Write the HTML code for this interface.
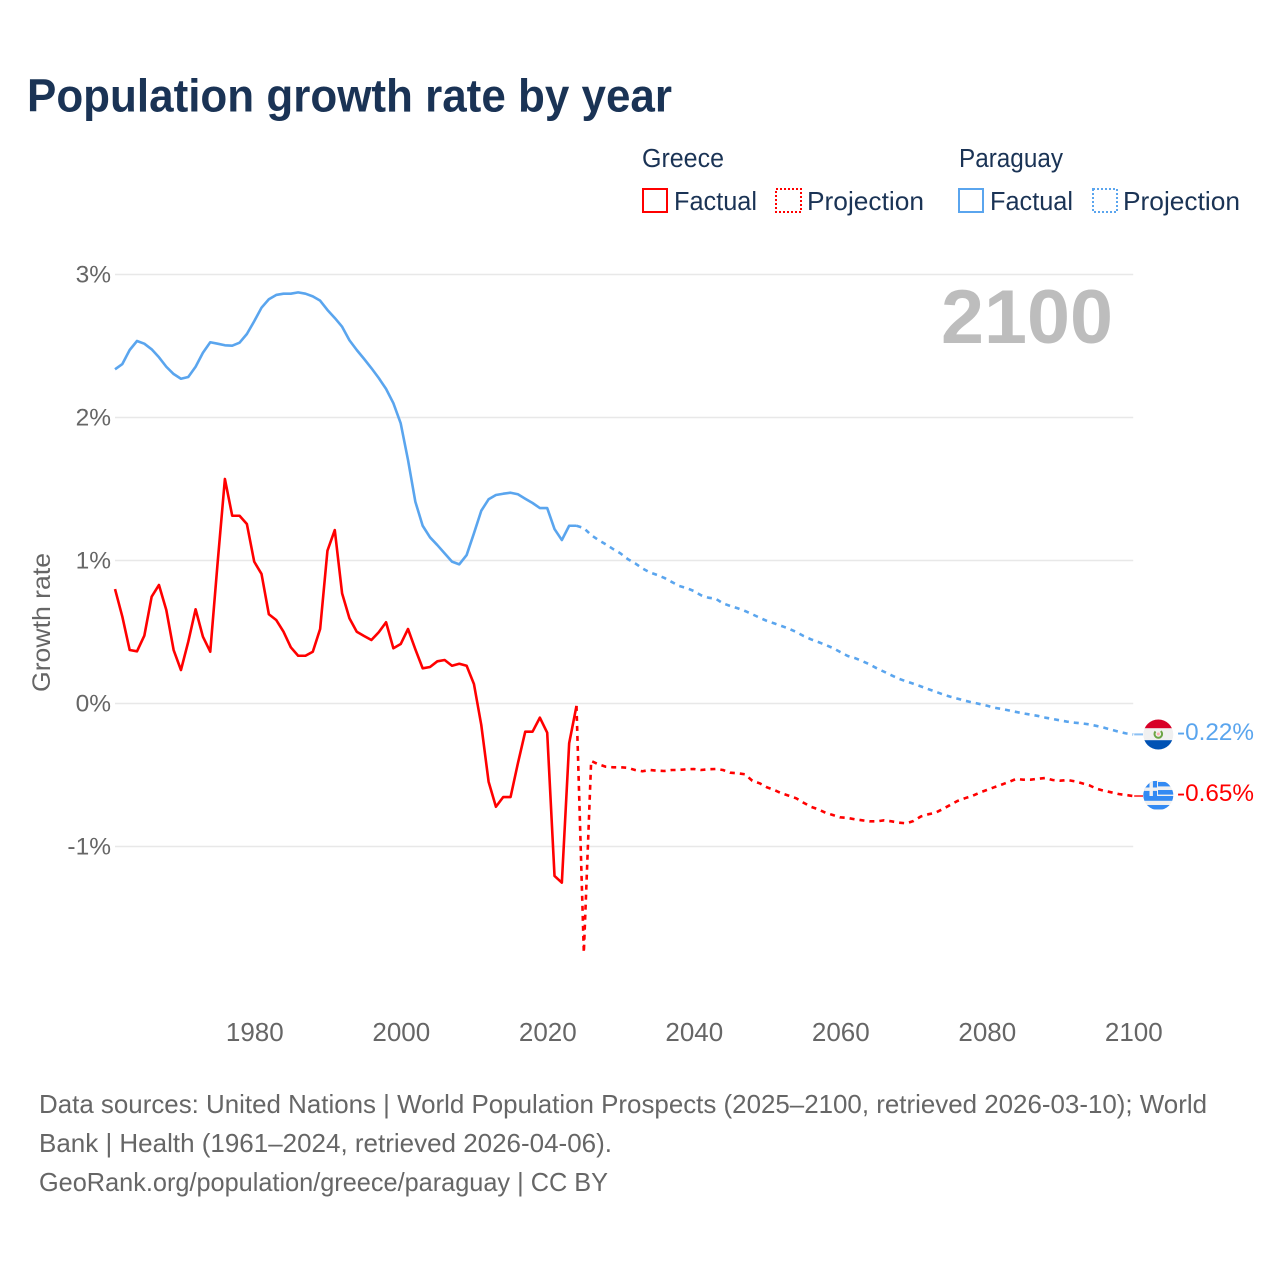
<!DOCTYPE html>
<html lang="en">
<head>
<meta charset="utf-8">
<title>Population growth rate by year</title>
<style>
html,body{margin:0;padding:0;background:#fff;width:1280px;height:1280px;overflow:hidden}
svg{display:block}
text{font-family:"Liberation Sans",sans-serif}
</style>
</head>
<body>
<svg id="chart" xmlns="http://www.w3.org/2000/svg" width="1280" height="1280" viewBox="0 0 1280 1280">
  <defs>
    <clipPath id="flag-clip-py"><circle cx="1158.3" cy="734.5" r="15"/></clipPath>
    <clipPath id="flag-clip-gr"><circle cx="1158.3" cy="795.2" r="15"/></clipPath>
  </defs>
  <rect width="1280" height="1280" fill="#fff"/>
  <text x="27" y="111.5" font-size="46" font-weight="700" fill="#1a3355" textLength="645" lengthAdjust="spacingAndGlyphs">Population growth rate by year</text>

  <g>
    <text x="642" y="167" font-size="25.5" fill="#1a3355" textLength="82" lengthAdjust="spacingAndGlyphs">Greece</text>
    <rect x="643" y="189" width="24" height="23" fill="none" stroke="#ff0000" stroke-width="2"/>
    <text x="674" y="210" font-size="25.5" fill="#1a3355" textLength="83" lengthAdjust="spacingAndGlyphs">Factual</text>
    <rect x="776" y="189" width="25" height="23" fill="none" stroke="#ff0000" stroke-width="2" stroke-dasharray="2,2"/>
    <text x="807" y="210" font-size="26" fill="#1a3355" textLength="117" lengthAdjust="spacingAndGlyphs">Projection</text>
    <text x="959" y="167" font-size="25.5" fill="#1a3355" textLength="104" lengthAdjust="spacingAndGlyphs">Paraguay</text>
    <rect x="959" y="189" width="24" height="23" fill="none" stroke="#5aa5ee" stroke-width="2"/>
    <text x="990" y="210" font-size="25.5" fill="#1a3355" textLength="83" lengthAdjust="spacingAndGlyphs">Factual</text>
    <rect x="1093" y="189" width="24" height="23" fill="none" stroke="#5aa5ee" stroke-width="2" stroke-dasharray="2,2"/>
    <text x="1123" y="210" font-size="26" fill="#1a3355" textLength="117" lengthAdjust="spacingAndGlyphs">Projection</text>
  </g>

  <g id="grid"></g>
  <g id="y-ticks"></g>
  <g id="x-ticks"></g>
  <text transform="translate(50,692) rotate(-90)" font-size="25" fill="#666" textLength="139" lengthAdjust="spacingAndGlyphs">Growth rate</text>
  <text x="941" y="343" font-size="76" font-weight="700" fill="#bdbdbd" textLength="172" lengthAdjust="spacingAndGlyphs">2100</text>
  <g id="series"></g>

  <g clip-path="url(#flag-clip-py)">
    <rect x="1143" y="719" width="31" height="31" fill="#f0f0f0"/>
    <rect x="1143" y="719" width="31" height="9.2" fill="#d80027"/>
    <rect x="1143" y="740.2" width="31" height="10" fill="#0052b4"/>
    <circle cx="1158.3" cy="734" r="3.8" fill="none" stroke="#6da544" stroke-width="2" stroke-dasharray="18 6" transform="rotate(-50 1158.3 734)"/>
    <circle cx="1158.3" cy="734" r="1.5" fill="#ffb0b0"/>
  </g>
  <text x="1177" y="740" font-size="24.5" fill="#5aa5ee" textLength="77" lengthAdjust="spacingAndGlyphs">-0.22%</text>

  <g clip-path="url(#flag-clip-gr)">
    <rect x="1143" y="780" width="31" height="31" fill="#f0f0f0"/>
    <rect x="1158" y="782" width="16" height="4.4" fill="#338af3"/>
    <rect x="1158" y="790" width="16" height="4.6" fill="#338af3"/>
    <rect x="1143" y="796" width="31" height="4.8" fill="#338af3"/>
    <rect x="1143" y="805" width="31" height="4.4" fill="#338af3"/>
    <rect x="1143" y="781" width="14" height="15" fill="#338af3"/>
    <rect x="1149.5" y="781" width="3.4" height="15" fill="#f0f0f0"/>
    <rect x="1143" y="787.5" width="14" height="3.4" fill="#f0f0f0"/>
  </g>
  <text x="1177" y="801" font-size="24.5" fill="#ff0000" textLength="77" lengthAdjust="spacingAndGlyphs">-0.65%</text>

  <g font-size="26" fill="#666">
    <text x="39" y="1113" textLength="1168" lengthAdjust="spacingAndGlyphs">Data sources: United Nations | World Population Prospects (2025–2100, retrieved 2026-03-10); World</text>
    <text x="39" y="1152" textLength="573" lengthAdjust="spacingAndGlyphs">Bank | Health (1961–2024, retrieved 2026-04-06).</text>
    <text x="39" y="1191" textLength="569" lengthAdjust="spacingAndGlyphs">GeoRank.org/population/greece/paraguay | CC BY</text>
  </g>
</svg>
<script>
const yTickValues = [3, 2, 1, 0, -1];
const yTickLabels = ["3%", "2%", "1%", "0%", "-1%"];
const xTickYears = [1980, 2000, 2020, 2040, 2060, 2080, 2100];
const firstYear = 1961;
const projectionStartYear = 2024;

const greeceFactual = [0.80,0.607,0.374,0.365,0.474,0.747,0.829,0.654,0.374,0.234,0.432,0.659,0.467,0.362,0.98,1.57,1.313,1.313,1.255,0.992,0.906,0.624,0.584,0.502,0.393,0.334,0.334,0.362,0.521,1.069,1.213,0.77,0.596,0.502,0.472,0.444,0.498,0.568,0.386,0.416,0.521,0.379,0.246,0.255,0.295,0.304,0.264,0.278,0.264,0.136,-0.15,-0.547,-0.722,-0.654,-0.654,-0.418,-0.197,-0.197,-0.099,-0.204,-1.206,-1.253,-0.278,-0.017];
const greeceProjection = [-0.017,-1.743,-0.402,-0.425,-0.442,-0.446,-0.446,-0.45,-0.465,-0.474,-0.465,-0.47,-0.472,-0.465,-0.465,-0.46,-0.458,-0.465,-0.46,-0.458,-0.465,-0.484,-0.488,-0.495,-0.54,-0.558,-0.586,-0.605,-0.628,-0.645,-0.663,-0.694,-0.722,-0.74,-0.764,-0.78,-0.796,-0.80,-0.81,-0.817,-0.824,-0.824,-0.817,-0.824,-0.833,-0.838,-0.822,-0.79,-0.775,-0.764,-0.738,-0.71,-0.682,-0.663,-0.647,-0.624,-0.605,-0.586,-0.568,-0.549,-0.528,-0.533,-0.533,-0.526,-0.521,-0.535,-0.54,-0.535,-0.544,-0.558,-0.572,-0.596,-0.61,-0.621,-0.633,-0.64,-0.647];
const paraguayFactual = [2.337,2.374,2.472,2.535,2.516,2.477,2.421,2.355,2.304,2.271,2.283,2.355,2.453,2.526,2.516,2.505,2.502,2.523,2.584,2.673,2.768,2.827,2.857,2.866,2.866,2.875,2.866,2.847,2.817,2.752,2.696,2.635,2.54,2.472,2.41,2.345,2.276,2.2,2.10,1.959,1.703,1.411,1.243,1.162,1.108,1.05,0.992,0.973,1.038,1.19,1.348,1.428,1.458,1.467,1.474,1.463,1.432,1.402,1.367,1.367,1.22,1.143,1.243,1.243];
const paraguayProjection = [1.243,1.227,1.178,1.143,1.113,1.08,1.05,1.01,0.98,0.945,0.917,0.899,0.878,0.85,0.822,0.808,0.787,0.757,0.74,0.733,0.70,0.682,0.666,0.647,0.624,0.60,0.577,0.56,0.542,0.523,0.50,0.472,0.449,0.43,0.41,0.388,0.36,0.333,0.318,0.297,0.274,0.246,0.222,0.197,0.173,0.155,0.138,0.12,0.101,0.083,0.064,0.048,0.034,0.02,0.008,-0.003,-0.015,-0.029,-0.038,-0.048,-0.059,-0.069,-0.078,-0.087,-0.099,-0.108,-0.118,-0.127,-0.134,-0.139,-0.146,-0.157,-0.169,-0.183,-0.197,-0.209,-0.216];

const NS = "http://www.w3.org/2000/svg";
const xScale = function (year) { return 254.2 + (year - 1980) * 7.325; };
const yScale = function (value) { return 703.5 - value * 143; };
const toPoints = function (values, startYear) {
  return values.map(function (v, i) {
    return xScale(startYear + i).toFixed(2) + "," + yScale(v).toFixed(2);
  }).join(" ");
};

const grid = document.getElementById("grid");
const yTicks = document.getElementById("y-ticks");
const xTicks = document.getElementById("x-ticks");
const series = document.getElementById("series");

yTickValues.forEach(function (value, i) {
  const line = document.createElementNS(NS, "line");
  
  
  line.setAttribute("x1", 115);
  line.setAttribute("x2", xScale(2100));
  line.setAttribute("y1", yScale(value));
  line.setAttribute("y2", yScale(value));
  line.setAttribute("stroke", "#e8e8e8");
  line.setAttribute("stroke-width", 1.6);
  grid.appendChild(line);

  const label = document.createElementNS(NS, "text");
  
  
  label.setAttribute("x", 111);
  label.setAttribute("y", yScale(value) + 8);
  label.setAttribute("text-anchor", "end");
  label.setAttribute("font-size", 24.5);
  label.setAttribute("fill", "#666");
  label.textContent = yTickLabels[i];
  yTicks.appendChild(label);
});

xTickYears.forEach(function (year) {
  const label = document.createElementNS(NS, "text");
  
  
  label.setAttribute("x", xScale(year) + 0.6);
  label.setAttribute("y", 1041);
  label.setAttribute("text-anchor", "middle");
  label.setAttribute("font-size", 26);
  label.setAttribute("fill", "#666");
  label.textContent = String(year);
  xTicks.appendChild(label);
});

const addLine = function (name, values, startYear, color, dashed) {
  const line = document.createElementNS(NS, "polyline");
  
  
  line.setAttribute("points", toPoints(values, startYear));
  line.setAttribute("fill", "none");
  line.setAttribute("stroke", color);
  line.setAttribute("stroke-width", 2.6);
  line.setAttribute("stroke-linejoin", "round");
  if (dashed) {
    line.setAttribute("stroke-dasharray", "5,5");
  }
  series.appendChild(line);
};

addLine("paraguay-projection-line", paraguayProjection, projectionStartYear, "#5aa5ee", true);
addLine("paraguay-factual-line", paraguayFactual, firstYear, "#5aa5ee", false);
addLine("greece-projection-line", greeceProjection, projectionStartYear, "#ff0000", true);
addLine("greece-factual-line", greeceFactual, firstYear, "#ff0000", false);

const addConnector = function (name, lastValue, color) {
  const link = document.createElementNS(NS, "line");
  
  
  link.setAttribute("x1", xScale(2100) + 1);
  link.setAttribute("x2", 1143);
  link.setAttribute("y1", yScale(lastValue));
  link.setAttribute("y2", yScale(lastValue));
  link.setAttribute("stroke", color);
  link.setAttribute("stroke-width", 2);
  link.setAttribute("stroke-opacity", 0.7);
  series.appendChild(link);
};
addConnector("paraguay-flag-connector", paraguayProjection[paraguayProjection.length - 1], "#5aa5ee");
addConnector("greece-flag-connector", greeceProjection[greeceProjection.length - 1], "#ff0000");
</script>
</body>
</html>
